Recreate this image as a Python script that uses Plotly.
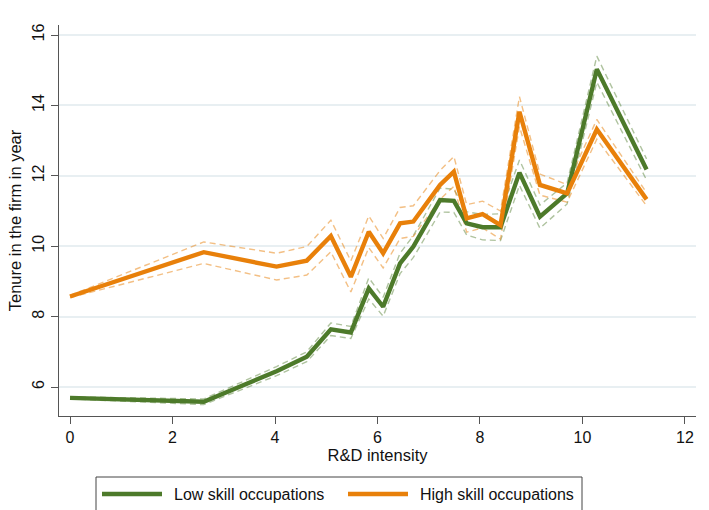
import plotly.graph_objects as go

# R&D intensity (x) values
rd_intensity = [0.0, 2.61, 4.03, 4.62, 5.09, 5.48, 5.83, 6.11, 6.44, 6.70,
                7.22, 7.49, 7.74, 8.05, 8.40, 8.77, 9.17, 9.70, 10.28, 11.25]

# Low skill occupations: tenure and CI bounds
low_tenure = [5.69, 5.58, 6.45, 6.86, 7.64, 7.55, 8.80, 8.28, 9.51, 9.99,
              11.31, 11.29, 10.65, 10.54, 10.54, 12.09, 10.84, 11.50, 15.03, 12.18]
low_upper = [5.72, 5.66, 6.58, 7.00, 7.82, 7.72, 9.10, 8.55, 9.80, 10.30,
             11.65, 11.62, 10.98, 10.90, 10.92, 12.45, 11.17, 11.80, 15.40, 12.48]
low_lower = [5.66, 5.50, 6.32, 6.72, 7.46, 7.38, 8.50, 8.01, 9.22, 9.68,
             10.97, 10.96, 10.32, 10.18, 10.16, 11.73, 10.51, 11.20, 14.66, 11.88]

# High skill occupations: tenure and CI bounds
high_tenure = [8.57, 9.83, 9.42, 9.59, 10.29, 9.13, 10.41, 9.80, 10.65, 10.70,
               11.74, 12.12, 10.79, 10.91, 10.60, 13.82, 11.74, 11.50, 13.32, 11.33]
high_upper = [8.60, 10.12, 9.80, 9.99, 10.74, 9.58, 10.86, 10.22, 11.10, 11.15,
              12.15, 12.55, 11.18, 11.28, 11.00, 14.25, 12.05, 11.75, 13.60, 11.52]
high_lower = [8.54, 9.51, 9.04, 9.18, 9.84, 8.70, 9.96, 9.38, 10.22, 10.28,
              11.33, 11.70, 10.40, 10.52, 10.20, 13.40, 11.45, 11.25, 13.04, 11.15]

x_ticks = [0, 2, 4, 6, 8, 10, 12]
y_ticks = [6, 8, 10, 12, 14, 16]

GREEN = "#4d7a2a"
ORANGE = "#e8800a"
GREEN_CI = "rgba(77,122,42,0.45)"
ORANGE_CI = "rgba(232,128,10,0.5)"

fig = go.Figure()

for ys, col in [(low_upper, GREEN_CI), (low_lower, GREEN_CI),
                (high_upper, ORANGE_CI), (high_lower, ORANGE_CI)]:
    fig.add_trace(go.Scatter(x=rd_intensity, y=ys, mode="lines",
                             line=dict(color=col, width=1.4, dash="6px,4px"),
                             showlegend=False, hoverinfo="skip"))

fig.add_trace(go.Scatter(x=rd_intensity, y=low_tenure, mode="lines",
                         name="Low skill occupations",
                         line=dict(color=GREEN, width=4.4), showlegend=False))
fig.add_trace(go.Scatter(x=rd_intensity, y=high_tenure, mode="lines",
                         name="High skill occupations",
                         line=dict(color=ORANGE, width=4.4), showlegend=False))

W, H = 709, 510
ml, mr, mt, mb = 59, 13, 25, 94
pw, ph = W - ml - mr, H - mt - mb

def px_x(p):
    return (p - ml) / pw

def px_y(p):
    return (H - mb - p) / ph

shapes = []
annotations = []
# legend box
shapes.append(dict(type="rect", xref="paper", yref="paper",
                   x0=px_x(96), x1=px_x(582), y0=px_y(516), y1=px_y(477),
                   line=dict(color="#444444", width=1), fillcolor="white", layer="above"))
for (x0, x1, tx, col, label) in [(102, 162, 172, GREEN, "Low skill occupations"),
                                 (348, 408, 418, ORANGE, "High skill occupations")]:
    shapes.append(dict(type="line", xref="paper", yref="paper",
                       x0=px_x(x0), x1=px_x(x1), y0=px_y(494), y1=px_y(494),
                       line=dict(color=col, width=4.4), layer="above"))
    annotations.append(dict(x=px_x(tx), y=px_y(494), xref="paper", yref="paper",
                            text=label, showarrow=False, xanchor="left", yanchor="middle",
                            font=dict(size=16, color="#111111")))

fig.update_layout(
    width=W, height=H,
    margin=dict(l=ml, r=mr, t=mt, b=mb),
    paper_bgcolor="white", plot_bgcolor="white",
    font=dict(family="Liberation Sans, Arial, sans-serif", size=16, color="#111111"),
    shapes=shapes, annotations=annotations,
    showlegend=False,
)

fig.update_xaxes(
    range=[-0.215, 12.215], tickvals=x_ticks, ticktext=[str(v) for v in x_ticks],
    showgrid=False, zeroline=False, showline=True, linecolor="#555555", linewidth=1.3,
    ticks="outside", ticklen=7, tickcolor="#555555", tickwidth=1.3,
    title=dict(text="R&D intensity", font=dict(size=16.5), standoff=2),
    tickfont=dict(size=16),
)
fig.update_yaxes(
    range=[5.176, 16.284], tickvals=y_ticks, ticktext=[str(v) for v in y_ticks],
    showgrid=True, gridcolor="#e8eff2", gridwidth=1.5, zeroline=False,
    showline=True, linecolor="#555555", linewidth=1.3,
    ticks="outside", ticklen=7, tickcolor="#555555", tickwidth=1.3,
    tickangle=-90, tickfont=dict(size=16),
    title=dict(text="Tenure in the firm in year", font=dict(size=16.5), standoff=4),
)

fig.write_html("out.html")
